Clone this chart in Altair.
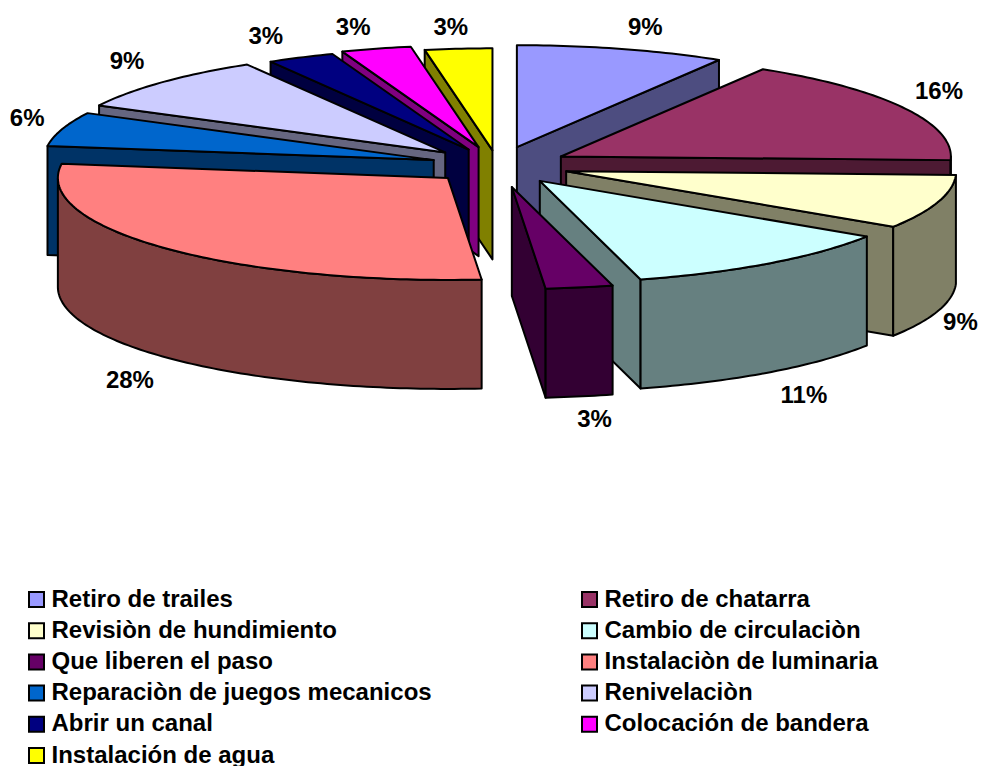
import math
import altair as alt

CATEGORIES = ["Retiro de trailes", "Retiro de chatarra", "Revisiòn de hundimiento",
              "Cambio de circulaciòn", "Que liberen el paso", "Instalaciòn de luminaria",
              "Reparaciòn de juegos mecanicos", "Renivelaciòn", "Abrir un canal",
              "Colocación de bandera", "Instalación de agua"]
SHARES = [8.67, 16.9, 8.6, 11.67, 2.78, 28.6, 5.4, 8.9, 2.8, 2.9, 2.78]
LABELS = ["9%", "16%", "9%", "11%", "3%", "28%", "6%", "9%", "3%", "3%", "3%"]
TOP_COLORS = ["#9999FF", "#993366", "#FFFFCC", "#CCFFFF", "#660066", "#FF8080",
              "#0066CC", "#CCCCFF", "#000080", "#FF00FF", "#FFFF00"]
SIDE_COLORS = ["#4D4D80", "#4D1A33", "#808066", "#668080", "#330033", "#804040",
               "#003366", "#666680", "#000040", "#800080", "#808000"]
DRAW_ORDER = [10, 9, 8, 7, 6, 0, 1, 2, 3, 4, 5]
EXPLODE = [1, 1, 1, 1, 1.15, 0.95, 0.93, 1, 0.93, 1.0, 0.8]

# projection of the tilted, exploded pie (page pixels)
CX, CY, RX, RY, DEPTH, EX, EY = 497.5, 165.5, 390, 102, 109, 72, 19
OFF = 8
PLOT_W, PLOT_H = 975, 758


def geometry():
    total = sum(SHARES)
    start, spans = 0.0, []
    for s in SHARES:
        end = start + s / total * 360
        spans.append((start, end))
        start = end
    feats, texts = {}, []
    for i, (a0, a1) in enumerate(spans):
        m = math.radians((a0 + a1) / 2)
        ax = CX + EXPLODE[i] * EX * math.sin(m)
        ay = CY - EXPLODE[i] * EY * math.cos(m)

        def pt(deg, dz=0):
            r = math.radians(deg)
            return [ax + RX * math.sin(r) - OFF, ay - RY * math.cos(r) + dz - OFF]

        apex = [ax - OFF, ay - OFF]
        apex_low = [ax - OFF, ay + DEPTH - OFF]
        n = max(2, int(a1 - a0) + 1)
        arc = [a0 + (a1 - a0) * k / n for k in range(n + 1)]
        faces = []
        if a0 >= 180:
            faces.append(("side", [apex, pt(a0), pt(a0, DEPTH), apex_low]))
        if a1 <= 180:
            faces.append(("side", [apex, pt(a1), pt(a1, DEPTH), apex_low]))
        front = [a for a in arc if 90 <= a <= 270]
        if len(front) > 1:
            faces.append(("side", [pt(a) for a in front] + [pt(a, DEPTH) for a in reversed(front)]))
        faces.append(("top", [apex] + [pt(a) for a in arc]))
        feats[i] = []
        for kind, ring in faces:
            key = CATEGORIES[i] if kind == "top" else CATEGORIES[i] + " (lado)"
            feats[i].append({"type": "Feature",
                             "properties": {"key": key},
                             "geometry": {"type": "Polygon", "coordinates": [ring + [ring[0]]]}})
        sn, cs = math.sin(m), math.cos(m)
        ex, ey = ax + RX * sn, ay - RY * cs + (DEPTH if cs < 0 else 0)
        dx = 35 * min(1, abs(sn) / 0.4) * (1 if sn > 0 else -1)
        dy = -22 * min(1, abs(cs) / 0.6) * (1 if cs > 0 else -1)
        half = 0.45 * 24 * len(LABELS[i])
        x = min(ex + dx - OFF, PLOT_W - half - 1)
        texts.append({"x": x, "y": ey + dy + 1.5 - OFF, "t": LABELS[i]})
    ordered = []
    for i in DRAW_ORDER:
        ordered += feats[i]
    return ordered, texts


features, label_rows = geometry()
domain = CATEGORIES + [c + " (lado)" for c in CATEGORIES]
colors = TOP_COLORS + SIDE_COLORS

pie = alt.Chart(alt.Data(values=features)).mark_geoshape(
    stroke="black", strokeWidth=2, strokeJoin="round"
).encode(
    color=alt.Color("properties.key:N",
                    scale=alt.Scale(domain=domain, range=colors),
                    legend=alt.Legend(
                        title=None, values=CATEGORIES, orient="none", direction="horizontal",
                        legendX=16.5, legendY=579.5, columns=2, columnPadding=145, rowPadding=7.2,
                        symbolType="square", symbolSize=225, symbolStrokeColor="black",
                        symbolStrokeWidth=2, symbolOpacity=1, labelFont="Liberation Sans",
                        labelFontWeight="bold", labelFontSize=24, labelColor="black",
                        labelLimit=500, labelOffset=3))
).project(type="identity", scale=1, translate=[0, 0])

text = alt.Chart(alt.Data(values=label_rows)).mark_text(
    font="Liberation Sans", fontWeight="bold", fontSize=24, color="black", baseline="middle"
).encode(
    x=alt.X("x:Q", scale=None, axis=None),
    y=alt.Y("y:Q", scale=None, axis=None),
    text="t:N",
)

chart = alt.layer(pie, text).properties(
    width=PLOT_W, height=PLOT_H, padding=0,
    autosize=alt.AutoSizeParams(type="none"), background="white"
).configure_view(stroke=None)

chart.save("out.html", embed_options={"renderer": "svg", "actions": False})
